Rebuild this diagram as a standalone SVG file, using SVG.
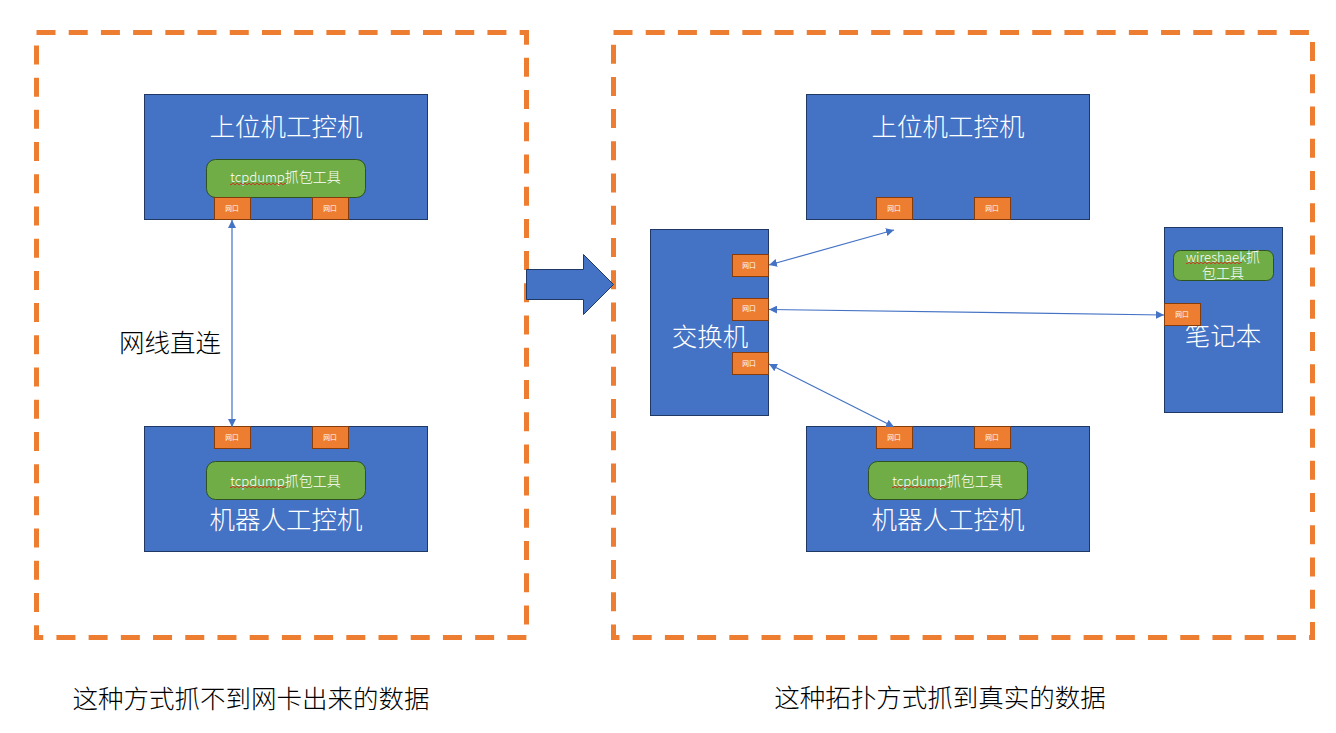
<svg xmlns="http://www.w3.org/2000/svg" width="1336" height="733" viewBox="0 0 1336 733">
<style>
text{font-family:"Noto Sans CJK SC","Liberation Sans",sans-serif;text-anchor:middle;font-weight:300}
.box{fill:#4472c4;stroke:#1f3864;stroke-width:1}
.port{fill:#ed7d31;stroke:#843c0c;stroke-width:1}
.pt{fill:#fff;font-size:6.8px;font-weight:400}
.tool{fill:#70ad47;stroke:#2f5320;stroke-width:1}
.tt{fill:#fff;font-size:14px}
.l{font-size:13.2px}
.nt{fill:#fff;font-size:25.5px}
.cap{fill:#000;font-size:25.5px}
.dash{fill:none;stroke:#ed7d31;stroke-width:5;stroke-dasharray:19 13.21}
.link{fill:none;stroke:#4472c4;stroke-width:1.2;marker-start:url(#a);marker-end:url(#a)}
.sq{fill:none;stroke:#e02020;stroke-width:.8}
</style>
<defs><marker id="a" viewBox="0 0 8 8" refX="8" refY="4" markerWidth="8" markerHeight="8" orient="auto-start-reverse" markerUnits="userSpaceOnUse"><path d="M0 0L8 4L0 8Z" fill="#4472c4"/></marker>
<path id="w" d="M0 0q1 2 2 0t2 0 2 0 2 0 2 0 2 0 2 0 2 0 2 0 2 0 2 0 2 0 2 0 2 0 2 0 2 0 2 0 2 0 2 0 2 0 2 0 2 0 2 0 2 0 2 0 2 0 2 0 2 0"/></defs>
<rect id="frame-left" class="dash" x="36.500" y="32.500" width="490" height="605"/>
<rect id="frame-right" class="dash" x="613.500" y="32.500" width="699" height="605"/>
<g id="host-a">
<rect class="box" x="144.500" y="94.500" width="283" height="125"/>
<text class="nt" x="286" y="136">上位机工控机</text>
</g>
<g id="tool-a"><rect class="tool" x="206.500" y="159.500" width="159" height="38" rx="9"/><text class="tt" x="285.500" y="182"><tspan class="l">tcpdump</tspan>抓包工具</text><use class="sq" href="#w" x="230" y="184"/></g>
<g id="port-a1"><rect class="port" x="214.500" y="197.500" width="36" height="22"/><text class="pt" x="232" y="211">网口</text></g>
<g id="port-a2"><rect class="port" x="312.500" y="197.500" width="36" height="22"/><text class="pt" x="330" y="211">网口</text></g>
<g id="robot-a">
<rect class="box" x="144.500" y="426.500" width="283" height="125"/>
<text class="nt" x="286" y="529">机器人工控机</text>
</g>
<g id="tool-b"><rect class="tool" x="206.500" y="461.500" width="159" height="38" rx="9"/><text class="tt" x="285.500" y="486"><tspan class="l">tcpdump</tspan>抓包工具</text><use class="sq" href="#w" x="230" y="487"/></g>
<g id="port-b1"><rect class="port" x="214.500" y="426.500" width="36" height="22"/><text class="pt" x="232" y="440">网口</text></g>
<g id="port-b2"><rect class="port" x="312.500" y="426.500" width="36" height="22"/><text class="pt" x="330" y="440">网口</text></g>
<g id="host-c">
<rect class="box" x="806.500" y="94.500" width="283" height="125"/>
<text class="nt" x="948" y="136">上位机工控机</text>
</g>
<g id="port-c1"><rect class="port" x="876.500" y="197.500" width="36" height="22"/><text class="pt" x="894" y="211">网口</text></g>
<g id="port-c2"><rect class="port" x="974.500" y="197.500" width="36" height="22"/><text class="pt" x="992" y="211">网口</text></g>
<g id="robot-d">
<rect class="box" x="806.500" y="426.500" width="283" height="125"/>
<text class="nt" x="948" y="529">机器人工控机</text>
</g>
<g id="tool-d"><rect class="tool" x="868.500" y="461.500" width="159" height="38" rx="9"/><text class="tt" x="947.500" y="486"><tspan class="l">tcpdump</tspan>抓包工具</text><use class="sq" href="#w" x="892" y="487"/></g>
<g id="port-d1"><rect class="port" x="876.500" y="426.500" width="36" height="22"/><text class="pt" x="894" y="440">网口</text></g>
<g id="port-d2"><rect class="port" x="974.500" y="426.500" width="36" height="22"/><text class="pt" x="992" y="440">网口</text></g>
<g id="switch">
<rect class="box" x="650.500" y="229.500" width="118" height="186"/>
<text class="nt" x="710" y="346">交换机</text>
</g>
<g id="port-s1"><rect class="port" x="732.500" y="254.500" width="36" height="22"/><text class="pt" x="749" y="268">网口</text></g>
<g id="port-s2"><rect class="port" x="732.500" y="298.500" width="36" height="22"/><text class="pt" x="749" y="311">网口</text></g>
<g id="port-s3"><rect class="port" x="732.500" y="352.500" width="36" height="22"/><text class="pt" x="749" y="366">网口</text></g>
<g id="laptop">
<rect class="box" x="1164.500" y="227.500" width="118" height="185"/>
<text class="nt" x="1223" y="345">笔记本</text>
</g>
<g id="tool-w"><rect class="tool" x="1173.500" y="250.500" width="100" height="30" rx="7"/><text class="tt" x="1223" y="262"><tspan class="l">wireshaek</tspan>抓</text><text class="tt" x="1223" y="278">包工具</text><use class="sq" href="#w" x="1186" y="263"/></g>
<g id="port-w"><rect class="port" x="1164.500" y="303.500" width="36" height="22"/><text class="pt" x="1182" y="317">网口</text></g>
<g id="connectors">
<path class="link" d="M232 220V427"/>
<path class="link" d="M769 265L894 230"/>
<path class="link" d="M769 309.500L1164 315"/>
<path class="link" d="M769 364L894 427"/>
</g>
<path id="big-arrow" d="M526.500 269.500H583.500V254.500L613.500 284.500L583.500 314.500V299.500H526.500Z" fill="#4472c4" stroke="#1f3864" stroke-width="1"/>
<text class="cap" x="170" y="352">网线直连</text>
<text class="cap" x="251" y="708">这种方式抓不到网卡出来的数据</text>
<text class="cap" x="940" y="707">这种拓扑方式抓到真实的数据</text>
</svg>
